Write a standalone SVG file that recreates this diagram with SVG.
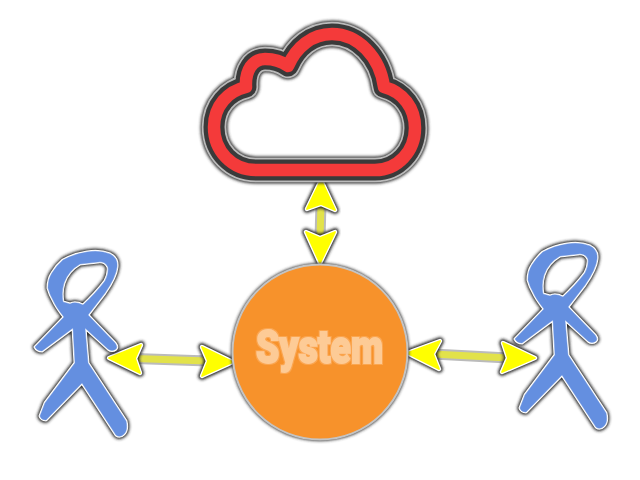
<svg xmlns="http://www.w3.org/2000/svg" xmlns:xlink="http://www.w3.org/1999/xlink" width="640" height="480" viewBox="0 0 640 480">
<style>
.glow{filter:url(#soft)}
.shaft{fill:none;stroke-linecap:butt}
.h1{fill:#222;stroke:#222;stroke-width:7.500;stroke-linejoin:round;filter:url(#soft)}
.h2{fill:#fff;stroke:#fff;stroke-width:4.500;stroke-linejoin:round}
.h3{fill:#ff0;stroke:#ff0;stroke-width:1.800;stroke-linejoin:round}
.s1{stroke:#333;stroke-width:13;filter:url(#soft)}
.s2{stroke:#bbb;stroke-width:11}
.s3{stroke:#e2e24a;stroke-width:7}
text{font-family:Roboto,"Liberation Sans",Arial,sans-serif;font-weight:900;font-size:47px}
</style>
<defs>
<filter id="soft" x="-20%" y="-20%" width="140%" height="140%"><feGaussianBlur stdDeviation="1.4"/></filter>
<filter id="halo" x="-10%" y="-20%" width="120%" height="140%">
<feMorphology in="SourceAlpha" operator="dilate" radius="1.200" result="d"/>
<feFlood flood-color="#fba650"/>
<feComposite in2="d" operator="in" result="h"/>
<feMerge><feMergeNode in="h"/><feMergeNode in="SourceGraphic"/></feMerge>
</filter>
<path id="cloudline" fill="none" stroke-linejoin="round" d="M256 170H375C398 170 415 151 415 128C415 108 403 92 384 87C380 57 358 34 332 34C312 34 296 47 288 66C281 61 274 59 265 59C253 59 245 70 246 87C228 91 214 106 214 127C214 151 232 170 256 170Z"/>
<path id="man" fill-rule="evenodd" stroke-linejoin="round" d="M87 252Q100 250 110 254Q118 258 117 267Q116 277 105 293L88 315L115 343Q118 347 116 349Q112 352 108 349L85 328L88 363L126 421Q128 430 124 434Q120 438 116 435L82 383L46 420Q41 420 40 416L45 403L75 363L73 328L42 351Q37 351 35 347L64 317Q56 307 53 300Q50 295 48 288Q48 279 52 273Q57 265 63 260Q74 254 87 252ZM80 264Q68 271 64 283Q61 292 63 302L70 304Q75 301 83 305Q96 293 105 281Q109 273 108 267Q105 261 98 262Z"/>
<path id="hl" d="M109 358L141 345L135 358.500L140 373ZM233 362L202 347L208 361L202 376Z"/>
<path id="hr" d="M407 353L440 341L433 354L439 369ZM535 358L503 343L508 358L502 372Z"/>
<path id="ht" d="M321 180L335 210L321 204L307 209ZM320 263L306 232L320 238L335 232Z"/>
</defs>

<g id="connectors">
<g id="link-left">
<path class="shaft s1" d="M135 358.500L208 361"/>
<path class="shaft s2" d="M135 358.500L208 361"/>
<path class="shaft s3" d="M135 358.500L208 361"/>
<use href="#hl" xlink:href="#hl" class="h1"/>
<use href="#hl" xlink:href="#hl" class="h2"/>
<use href="#hl" xlink:href="#hl" class="h3"/>
</g>
<g id="link-right">
<path class="shaft s1" d="M433 354L508 358"/>
<path class="shaft s2" d="M433 354L508 358"/>
<path class="shaft s3" d="M433 354L508 358"/>
<use href="#hr" xlink:href="#hr" class="h1"/>
<use href="#hr" xlink:href="#hr" class="h2"/>
<use href="#hr" xlink:href="#hr" class="h3"/>
</g>
<g id="link-top">
<path class="shaft s1" d="M321 204L320 238"/>
<path class="shaft s2" d="M321 204L320 238"/>
<path class="shaft s3" d="M321 204L320 238"/>
<use href="#ht" xlink:href="#ht" class="h1"/>
<use href="#ht" xlink:href="#ht" class="h2"/>
<use href="#ht" xlink:href="#ht" class="h3"/>
</g>
</g>

<g id="cloud">
<use xlink:href="#cloudline" href="#cloudline" class="glow" stroke="#333" stroke-width="27"/>
<use xlink:href="#cloudline" href="#cloudline" stroke="#bbb" stroke-width="24.500"/>
<use xlink:href="#cloudline" href="#cloudline" stroke="#3a3a3a" stroke-width="21"/>
<use xlink:href="#cloudline" href="#cloudline" stroke="#f43a3a" stroke-width="12.500"/>
</g>

<g id="person-left">
<use xlink:href="#man" href="#man" class="glow" fill="#222" stroke="#222" stroke-width="5.500"/>
<use xlink:href="#man" href="#man" fill="#fff" stroke="#fff" stroke-width="3"/>
<use xlink:href="#man" href="#man" fill="#648fe0" stroke="#648fe0" stroke-width="0.400"/>
</g>
<g id="person-right" transform="translate(480,-8)">
<use xlink:href="#man" href="#man" class="glow" fill="#222" stroke="#222" stroke-width="5.500"/>
<use xlink:href="#man" href="#man" fill="#fff" stroke="#fff" stroke-width="3"/>
<use xlink:href="#man" href="#man" fill="#648fe0" stroke="#648fe0" stroke-width="0.400"/>
</g>

<g id="system">
<circle class="glow" cx="320" cy="352" r="89" fill="#333"/>
<circle cx="320" cy="352" r="87.500" fill="#f7922b" stroke="#c4c4c4" stroke-width="2"/>
<text x="256" y="363" textLength="127" lengthAdjust="spacingAndGlyphs" fill="#fdcb96" stroke="#fdcb96" stroke-width="1.800" filter="url(#halo)">System</text>
</g>
</svg>
